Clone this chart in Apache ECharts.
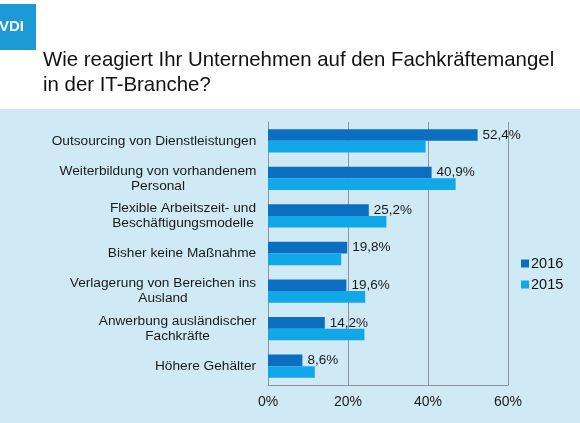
<!DOCTYPE html>
<html><head><meta charset="utf-8">
<script src="https://cdn.jsdelivr.net/npm/echarts@6/dist/echarts.min.js"></script>
<style>html,body{margin:0;padding:0;background:#fff}#c{width:580px;height:423px}</style>
</head><body><div id="c"></div>
<script>
const categories = [
  "Outsourcing von Dienstleistungen",
  "Weiterbildung von vorhandenem\nPersonal",
  "Flexible Arbeitszeit- und\nBeschäftigungsmodelle",
  "Bisher keine Maßnahme",
  "Verlagerung von Bereichen ins\nAusland",
  "Anwerbung ausländischer\nFachkräfte",
  "Höhere Gehälter"
];
const values2016 = [52.4, 40.9, 25.2, 19.8, 19.6, 14.2, 8.6];
const values2015 = [39.4, 46.9, 29.6, 18.3, 24.3, 24.1, 11.7];
const seriesNames = ["2016", "2015"];
const xTicks = [0, 20, 40, 60];
const titleText = "Wie reagiert Ihr Unternehmen auf den Fachkräftemangel\nin der IT-Branche?";

const FONT = "Liberation Sans, Arial, sans-serif";
const LABEL_SIZE = 13.7;

// Build rich styles so each multi-line category label has its lines centred
const measureCtx = document.createElement('canvas').getContext('2d');
measureCtx.font = LABEL_SIZE + 'px ' + FONT;
const richStyles = {};
categories.forEach(function (c, i) {
  const w = Math.max.apply(null, c.split('\n').map(function (l) { return measureCtx.measureText(l).width; }));
  richStyles['c' + i] = {width: Math.ceil(w) + 1, align: 'center', fontFamily: FONT, fontSize: LABEL_SIZE, color: '#1a1a1a', lineHeight: 15};
});

const chart = echarts.init(document.getElementById('c'), null, {renderer: 'canvas'});
chart.setOption({
  animation: false,
  backgroundColor: '#ffffff',
  graphic: [
    {type: 'rect', z: -10, shape: {x: 0, y: 109, width: 580, height: 314}, style: {fill: '#cfe9f5'}},
    {type: 'rect', shape: {x: 0, y: 4, width: 36, height: 46}, style: {fill: '#1c9ad6'}},
    {type: 'text', x: -1, y: 27, style: {text: 'VDI', fill: '#ffffff', font: 'bold 15px ' + FONT, textVerticalAlign: 'middle'}}
  ],
  title: {
    text: titleText,
    left: 43, top: 48, padding: 0,
    textStyle: {fontFamily: FONT, fontSize: 20.4, fontWeight: 'normal', color: '#111111', lineHeight: 25}
  },
  legend: {
    orient: 'vertical',
    left: 521, top: 256, padding: 0,
    itemWidth: 8, itemHeight: 8, itemGap: 6,
    icon: 'rect',
    data: seriesNames,
    textStyle: {fontFamily: FONT, fontSize: 14.5, color: '#111111', padding: [0, 0, 0, -3]}
  },
  grid: {left: 268, right: 72, top: 122, bottom: 38, containLabel: false},
  xAxis: {
    type: 'value', min: xTicks[0], max: xTicks[xTicks.length - 1], interval: 20,
    axisLine: {show: true, lineStyle: {color: '#8a979f', width: 1}},
    axisTick: {show: false},
    splitLine: {show: true, lineStyle: {color: '#8a979f', width: 1}},
    axisLabel: {formatter: '{value}%', fontFamily: FONT, fontSize: 14, color: '#1a1a1a', margin: 10}
  },
  yAxis: {
    type: 'category', inverse: true, data: categories,
    axisLine: {show: true, lineStyle: {color: '#8a979f', width: 1}},
    axisTick: {show: false},
    axisLabel: {
      margin: 11, align: 'right',
      fontFamily: FONT, fontSize: LABEL_SIZE, color: '#1a1a1a', lineHeight: 15,
      formatter: function (v, idx) { return v.split('\n').map(function (l) { return '{c' + idx + '|' + l + '}'; }).join('\n'); },
      rich: richStyles
    }
  },
  series: [
    {
      name: seriesNames[0], type: 'bar', data: values2016,
      barGap: '0%', barCategoryGap: '38%',
      itemStyle: {color: '#0b6ec0'},
      label: {show: true, position: 'right', distance: 5, fontFamily: FONT, fontSize: 13.5, color: '#1a1a1a',
        formatter: function (p) { return p.value.toFixed(1).replace('.', ',') + '%'; }}
    },
    {
      name: seriesNames[1], type: 'bar', data: values2015,
      barGap: '0%', barCategoryGap: '38%',
      itemStyle: {color: '#12a7e8'}
    }
  ]
});
</script></body></html>
